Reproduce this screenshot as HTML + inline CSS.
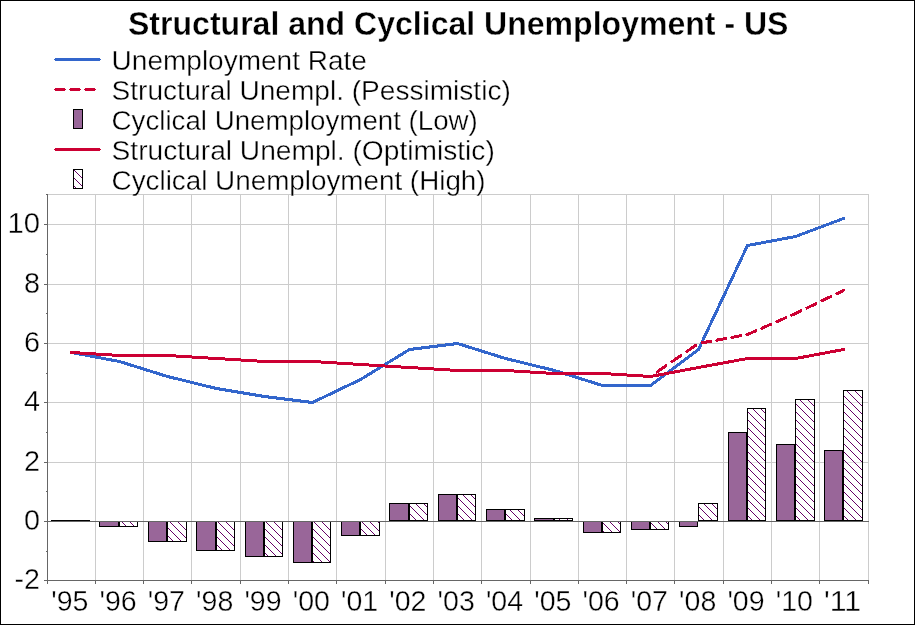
<!DOCTYPE html>
<html><head><meta charset="utf-8"><title>Structural and Cyclical Unemployment - US</title>
<style>html,body{margin:0;padding:0;background:#fff;}body{width:915px;height:625px;overflow:hidden;}svg{display:block;}text{font-family:"Liberation Sans", sans-serif;fill:#000;}</style>
</head><body>
<svg width="915" height="625" viewBox="0 0 915 625">
<defs><pattern id="h" patternUnits="userSpaceOnUse" width="8" height="8" x="0" y="0"><path d="M0,0h1v1h-1zM1,1h1v1h-1zM2,2h1v1h-1zM3,3h1v1h-1zM4,4h1v1h-1zM5,5h1v1h-1zM6,6h1v1h-1zM7,7h1v1h-1z" fill="#660066" shape-rendering="crispEdges"/></pattern></defs>
<rect x="0" y="0" width="915" height="625" fill="#fff"/>
<rect x="0.5" y="0.5" width="914" height="624" fill="none" stroke="#000" stroke-width="1"/>
<path d="M95.5,194 V580 M143.5,194 V580 M191.5,194 V580 M240.5,194 V580 M288.5,194 V580 M336.5,194 V580 M385.5,194 V580 M433.5,194 V580 M481.5,194 V580 M530.5,194 V580 M578.5,194 V580 M626.5,194 V580 M674.5,194 V580 M723.5,194 V580 M771.5,194 V580 M819.5,194 V580 M868.5,194 V580 M48,521.5 H869 M48,462.5 H869 M48,402.5 H869 M48,343.5 H869 M48,284.5 H869 M48,224.5 H869 M48,194.5 H869" stroke="#cccccc" stroke-width="1" fill="none"/>
<path d="M51,520.5 H71" stroke="#000" stroke-width="1"/>
<path d="M71,520.5 H90" stroke="#000" stroke-width="1"/>
<rect x="99.5" y="521.5" width="19" height="5" fill="#996699" stroke="#000" stroke-width="1"/>
<rect x="119.5" y="521.5" width="18" height="5" fill="#fff" fill-opacity="0.45"/>
<rect x="119.5" y="521.5" width="18" height="5" fill="url(#h)" stroke="#000" stroke-width="1"/>
<rect x="148.5" y="521.5" width="18" height="20" fill="#996699" stroke="#000" stroke-width="1"/>
<rect x="167.5" y="521.5" width="19" height="20" fill="#fff" fill-opacity="0.45"/>
<rect x="167.5" y="521.5" width="19" height="20" fill="url(#h)" stroke="#000" stroke-width="1"/>
<rect x="196.5" y="521.5" width="19" height="29" fill="#996699" stroke="#000" stroke-width="1"/>
<rect x="216.5" y="521.5" width="18" height="29" fill="#fff" fill-opacity="0.45"/>
<rect x="216.5" y="521.5" width="18" height="29" fill="url(#h)" stroke="#000" stroke-width="1"/>
<rect x="245.5" y="521.5" width="18" height="35" fill="#996699" stroke="#000" stroke-width="1"/>
<rect x="264.5" y="521.5" width="18" height="35" fill="#fff" fill-opacity="0.45"/>
<rect x="264.5" y="521.5" width="18" height="35" fill="url(#h)" stroke="#000" stroke-width="1"/>
<rect x="293.5" y="521.5" width="18" height="41" fill="#996699" stroke="#000" stroke-width="1"/>
<rect x="312.5" y="521.5" width="18" height="41" fill="#fff" fill-opacity="0.45"/>
<rect x="312.5" y="521.5" width="18" height="41" fill="url(#h)" stroke="#000" stroke-width="1"/>
<rect x="341.5" y="521.5" width="18" height="14" fill="#996699" stroke="#000" stroke-width="1"/>
<rect x="360.5" y="521.5" width="19" height="14" fill="#fff" fill-opacity="0.45"/>
<rect x="360.5" y="521.5" width="19" height="14" fill="url(#h)" stroke="#000" stroke-width="1"/>
<rect x="389.5" y="503.5" width="19" height="17" fill="#996699" stroke="#000" stroke-width="1"/>
<rect x="409.5" y="503.5" width="18" height="17" fill="#fff" fill-opacity="0.45"/>
<rect x="409.5" y="503.5" width="18" height="17" fill="url(#h)" stroke="#000" stroke-width="1"/>
<rect x="438.5" y="494.5" width="18" height="26" fill="#996699" stroke="#000" stroke-width="1"/>
<rect x="457.5" y="494.5" width="18" height="26" fill="#fff" fill-opacity="0.45"/>
<rect x="457.5" y="494.5" width="18" height="26" fill="url(#h)" stroke="#000" stroke-width="1"/>
<rect x="486.5" y="509.5" width="18" height="11" fill="#996699" stroke="#000" stroke-width="1"/>
<rect x="505.5" y="509.5" width="19" height="11" fill="#fff" fill-opacity="0.45"/>
<rect x="505.5" y="509.5" width="19" height="11" fill="url(#h)" stroke="#000" stroke-width="1"/>
<rect x="534.5" y="518.5" width="19" height="2" fill="#996699" stroke="#000" stroke-width="1"/>
<rect x="554.5" y="518.5" width="18" height="2" fill="#fff" fill-opacity="0.45"/>
<rect x="554.5" y="518.5" width="18" height="2" fill="url(#h)" stroke="#000" stroke-width="1"/>
<rect x="583.5" y="521.5" width="18" height="11" fill="#996699" stroke="#000" stroke-width="1"/>
<rect x="602.5" y="521.5" width="18" height="11" fill="#fff" fill-opacity="0.45"/>
<rect x="602.5" y="521.5" width="18" height="11" fill="url(#h)" stroke="#000" stroke-width="1"/>
<rect x="631.5" y="521.5" width="18" height="8" fill="#996699" stroke="#000" stroke-width="1"/>
<rect x="650.5" y="521.5" width="18" height="8" fill="#fff" fill-opacity="0.45"/>
<rect x="650.5" y="521.5" width="18" height="8" fill="url(#h)" stroke="#000" stroke-width="1"/>
<rect x="679.5" y="521.5" width="18" height="5" fill="#996699" stroke="#000" stroke-width="1"/>
<rect x="698.5" y="503.5" width="19" height="17" fill="#fff" fill-opacity="0.45"/>
<rect x="698.5" y="503.5" width="19" height="17" fill="url(#h)" stroke="#000" stroke-width="1"/>
<rect x="728.5" y="432.5" width="18" height="88" fill="#996699" stroke="#000" stroke-width="1"/>
<rect x="747.5" y="408.5" width="18" height="112" fill="#fff" fill-opacity="0.45"/>
<rect x="747.5" y="408.5" width="18" height="112" fill="url(#h)" stroke="#000" stroke-width="1"/>
<rect x="776.5" y="444.5" width="18" height="76" fill="#996699" stroke="#000" stroke-width="1"/>
<rect x="795.5" y="399.5" width="19" height="121" fill="#fff" fill-opacity="0.45"/>
<rect x="795.5" y="399.5" width="19" height="121" fill="url(#h)" stroke="#000" stroke-width="1"/>
<rect x="824.5" y="450.5" width="18" height="70" fill="#996699" stroke="#000" stroke-width="1"/>
<rect x="843.5" y="390.5" width="19" height="130" fill="#fff" fill-opacity="0.45"/>
<rect x="843.5" y="390.5" width="19" height="130" fill="url(#h)" stroke="#000" stroke-width="1"/>
<path d="M48,521.5 H869" stroke="#666666" stroke-width="1"/>
<path d="M47.5,194 V584 M44,580.5 H869 M95.5,580 V584 M143.5,580 V584 M191.5,580 V584 M240.5,580 V584 M288.5,580 V584 M336.5,580 V584 M385.5,580 V584 M433.5,580 V584 M481.5,580 V584 M530.5,580 V584 M578.5,580 V584 M626.5,580 V584 M674.5,580 V584 M723.5,580 V584 M771.5,580 V584 M819.5,580 V584 M868.5,580 V584 M44,521.5 H47 M44,462.5 H47 M44,402.5 H47 M44,343.5 H47 M44,284.5 H47 M44,224.5 H47 M46.0,551.5 H47 M46.0,491.5 H47 M46.0,432.5 H47 M46.0,373.5 H47 M46.0,313.5 H47 M46.0,254.5 H47 M46.0,194.5 H47" stroke="#666666" stroke-width="1" fill="none"/>
<path d="M71.5,352.5 L119.5,361.5 M119.5,361.5 L167.5,376.5 M167.5,376.5 L216.5,388.5 M216.5,388.5 L264.5,396.5 M264.5,396.5 L312.5,402.5 M312.5,402.5 L360.5,379.5 M360.5,379.5 L409.5,349.5 M409.5,349.5 L457.5,343.5 M457.5,343.5 L505.5,358.5 M505.5,358.5 L554.5,370.5 M554.5,370.5 L602.5,385.5 M602.5,385.5 L650.5,385.5 M650.5,385.5 L698.5,349.5 M698.5,349.5 L747.5,245.5 M747.5,245.5 L795.5,236.5 M795.5,236.5 L843.5,218.5" stroke="#3366cc" fill="none" stroke-width="3" stroke-linejoin="miter" stroke-linecap="round" shape-rendering="crispEdges"/>
<path d="M650.50,376.50 L698.50,343.50" stroke="#cc0033" fill="none" stroke-width="3" stroke-linecap="round" shape-rendering="crispEdges" stroke-dasharray="10.92 7.28" stroke-dashoffset="10.44"/>
<path d="M698.50,343.50 L747.50,334.50" stroke="#cc0033" fill="none" stroke-width="3" stroke-linecap="round" shape-rendering="crispEdges" stroke-dasharray="9.15 6.10" stroke-dashoffset="11.79"/>
<path d="M747.50,334.50 L795.50,313.50" stroke="#cc0033" fill="none" stroke-width="3" stroke-linecap="round" shape-rendering="crispEdges" stroke-dasharray="9.82 6.55" stroke-dashoffset="0.65"/>
<path d="M795.50,313.50 L843.50,290.50" stroke="#cc0033" fill="none" stroke-width="3" stroke-linecap="round" shape-rendering="crispEdges" stroke-dasharray="9.98 6.65" stroke-dashoffset="3.99"/>
<path d="M71.5,352.5 L119.5,355.5 M119.5,355.5 L167.5,355.5 M167.5,355.5 L216.5,358.5 M216.5,358.5 L264.5,361.5 M264.5,361.5 L312.5,361.5 M312.5,361.5 L360.5,364.5 M360.5,364.5 L409.5,367.5 M409.5,367.5 L457.5,370.5 M457.5,370.5 L505.5,370.5 M505.5,370.5 L554.5,373.5 M554.5,373.5 L602.5,373.5 M602.5,373.5 L650.5,376.5 M650.5,376.5 L698.5,367.5 M698.5,367.5 L747.5,358.5 M747.5,358.5 L795.5,358.5 M795.5,358.5 L843.5,349.5" stroke="#cc0033" fill="none" stroke-width="3" stroke-linejoin="miter" stroke-linecap="round" shape-rendering="crispEdges"/>
<g style="will-change:transform" stroke="#fff" stroke-width="0.35" stroke-linejoin="round">
<text x="128.0" y="35" font-size="33.5" font-weight="bold" textLength="660.5" lengthAdjust="spacingAndGlyphs">Structural and Cyclical Unemployment - US</text>
<text x="111.6" y="70.0" font-size="28.4" textLength="255.3" lengthAdjust="spacingAndGlyphs">Unemployment Rate</text>
<text x="111.6" y="100.0" font-size="28.4" textLength="399.2" lengthAdjust="spacingAndGlyphs">Structural Unempl. (Pessimistic)</text>
<text x="111.6" y="130.0" font-size="28.4" textLength="366.2" lengthAdjust="spacingAndGlyphs">Cyclical Unemployment (Low)</text>
<text x="111.6" y="160.0" font-size="28.4" textLength="383.2" lengthAdjust="spacingAndGlyphs">Structural Unempl. (Optimistic)</text>
<text x="111.6" y="190.0" font-size="28.4" textLength="374.0" lengthAdjust="spacingAndGlyphs">Cyclical Unemployment (High)</text>
<text x="40" y="588.5" font-size="28.8" text-anchor="end" textLength="25.4" lengthAdjust="spacingAndGlyphs">-2</text>
<text x="40" y="529.5" font-size="28.8" text-anchor="end">0</text>
<text x="40" y="470.5" font-size="28.8" text-anchor="end">2</text>
<text x="40" y="410.5" font-size="28.8" text-anchor="end">4</text>
<text x="40" y="351.5" font-size="28.8" text-anchor="end">6</text>
<text x="40" y="292.5" font-size="28.8" text-anchor="end">8</text>
<text x="40" y="232.5" font-size="28.8" text-anchor="end" textLength="32.6" lengthAdjust="spacingAndGlyphs">10</text>
<text x="69.8" y="611" font-size="28.8" text-anchor="middle" textLength="37.2" lengthAdjust="spacingAndGlyphs">&#39;95</text>
<text x="118.1" y="611" font-size="28.8" text-anchor="middle" textLength="37.2" lengthAdjust="spacingAndGlyphs">&#39;96</text>
<text x="166.4" y="611" font-size="28.8" text-anchor="middle" textLength="37.2" lengthAdjust="spacingAndGlyphs">&#39;97</text>
<text x="214.7" y="611" font-size="28.8" text-anchor="middle" textLength="37.2" lengthAdjust="spacingAndGlyphs">&#39;98</text>
<text x="263.0" y="611" font-size="28.8" text-anchor="middle" textLength="37.2" lengthAdjust="spacingAndGlyphs">&#39;99</text>
<text x="311.3" y="611" font-size="28.8" text-anchor="middle" textLength="37.2" lengthAdjust="spacingAndGlyphs">&#39;00</text>
<text x="359.6" y="611" font-size="28.8" text-anchor="middle" textLength="37.2" lengthAdjust="spacingAndGlyphs">&#39;01</text>
<text x="407.9" y="611" font-size="28.8" text-anchor="middle" textLength="37.2" lengthAdjust="spacingAndGlyphs">&#39;02</text>
<text x="456.2" y="611" font-size="28.8" text-anchor="middle" textLength="37.2" lengthAdjust="spacingAndGlyphs">&#39;03</text>
<text x="504.5" y="611" font-size="28.8" text-anchor="middle" textLength="37.2" lengthAdjust="spacingAndGlyphs">&#39;04</text>
<text x="552.8" y="611" font-size="28.8" text-anchor="middle" textLength="37.2" lengthAdjust="spacingAndGlyphs">&#39;05</text>
<text x="601.1" y="611" font-size="28.8" text-anchor="middle" textLength="37.2" lengthAdjust="spacingAndGlyphs">&#39;06</text>
<text x="649.4" y="611" font-size="28.8" text-anchor="middle" textLength="37.2" lengthAdjust="spacingAndGlyphs">&#39;07</text>
<text x="697.7" y="611" font-size="28.8" text-anchor="middle" textLength="37.2" lengthAdjust="spacingAndGlyphs">&#39;08</text>
<text x="746.0" y="611" font-size="28.8" text-anchor="middle" textLength="37.2" lengthAdjust="spacingAndGlyphs">&#39;09</text>
<text x="794.3" y="611" font-size="28.8" text-anchor="middle" textLength="37.2" lengthAdjust="spacingAndGlyphs">&#39;10</text>
<text x="842.6" y="611" font-size="28.8" text-anchor="middle" textLength="37.2" lengthAdjust="spacingAndGlyphs">&#39;11</text>
</g>
<path d="M55,58H100V61H55Z M54,59H101V60H54Z" fill="#3366cc" shape-rendering="crispEdges"/>
<path d="M55,88H65V91H55Z M54,89H66V90H54Z" fill="#cc0033" shape-rendering="crispEdges"/>
<path d="M70,88H80V91H70Z M69,89H81V90H69Z" fill="#cc0033" shape-rendering="crispEdges"/>
<path d="M85,88H95V91H85Z M84,89H96V90H84Z" fill="#cc0033" shape-rendering="crispEdges"/>
<path d="M55,148H100V151H55Z M54,149H101V150H54Z" fill="#cc0033" shape-rendering="crispEdges"/>
<rect x="73.5" y="109.5" width="9" height="19" fill="#996699" stroke="#000" stroke-width="1"/>
<rect x="73.5" y="169.5" width="9" height="19" fill="url(#h)" stroke="#000" stroke-width="1"/>
</svg></body></html>
